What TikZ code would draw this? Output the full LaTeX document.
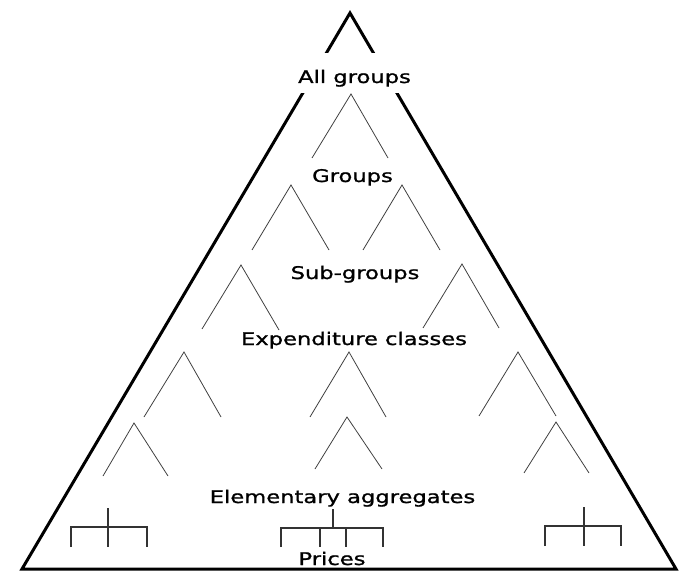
\documentclass[tikz,border=0pt]{standalone}
\usepackage{fontspec}
\newfontfamily\lblfont[FakeStretch=1.3,FakeBold=1.2]{DejaVu Sans}
\usepackage{tikz}

\begin{document}
\begin{tikzpicture}[x=1pt,y=-1pt,
  lbl/.style={font=\lblfont\fontsize{17.4}{20}\selectfont, inner sep=0pt, anchor=base},
  outline/.style={line width=3pt, line join=miter},
  branch/.style={line width=0.8pt, black!75},
  bracket/.style={line width=1.4pt, black!80}]
  \useasboundingbox (0,0) rectangle (680,572);

  \draw[outline] (350,13) -- (22,569) -- (676,569) -- cycle;

  \node[lbl, fill=white, text height=30pt, text depth=10pt] (allg) at (354.5,83) {All groups};
  \node[lbl] (grp) at (352.5,182) {Groups};
  \node[lbl] (subg) at (355,279) {Sub-groups};
  \node[lbl] (exp) at (354,345) {Expenditure classes};
  \node[lbl] (elem) at (342.5,503) {Elementary aggregates};
  \node[lbl] (pri) at (332,565) {Prices};

  % branches
  \draw[branch] (312,158) -- (351,94) -- (388,158);
  \draw[branch] (252,250) -- (291,185) -- (329,250);
  \draw[branch] (363,250) -- (402,185) -- (440,250);
  \draw[branch] (202,329) -- (241,265) -- (279,330);
  \draw[branch] (423,328) -- (462,264) -- (499,328);
  \draw[branch] (144,417) -- (184,352) -- (221,417);
  \draw[branch] (310,417) -- (349,352) -- (386,417);
  \draw[branch] (479,416) -- (518,352) -- (556,416);
  \draw[branch] (103,476) -- (134,423) -- (168,476);
  \draw[branch] (315,469) -- (347,417) -- (382,469);
  \draw[branch] (524,473) -- (556,422) -- (589,473);

  % price brackets
  \draw[bracket] (108,508) -- (108,547)
    (71,547) -- (71,527) -- (147,527) -- (147,547);
  \draw[bracket] (333,509) -- (333,528)
    (281,547) -- (281,528) -- (383,528) -- (383,547)
    (320,528) -- (320,547) (346,528) -- (346,547);
  \draw[bracket] (584,507) -- (584,546)
    (545,546) -- (545,526) -- (621,526) -- (621,546);
\end{tikzpicture}
\end{document}
